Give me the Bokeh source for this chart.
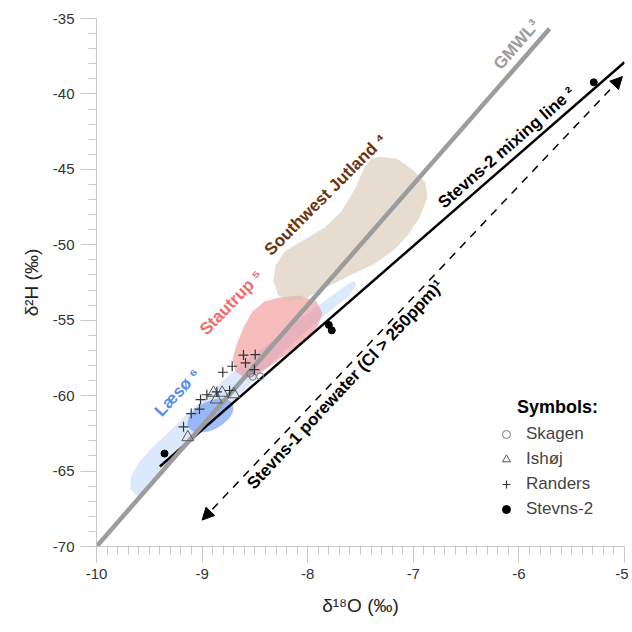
from bokeh.plotting import figure
from bokeh.models import (Label, Arrow, NormalHead, Legend, LegendItem, Ellipse,
                          ColumnDataSource, FixedTicker)
from bokeh.embed import file_html
from bokeh.resources import INLINE

FONT = "Liberation Sans"

# ---------------- data ----------------
skagen_x = [-8.545, -8.52, -8.45]
skagen_y = [-58.54, -58.75, -58.72]

ishoj_x = [-8.892, -8.81, -8.866, -8.70, -9.135]
ishoj_y = [-59.81, -59.81, -60.26, -59.91, -62.76]

randers_x = [-8.608, -8.497, -8.715, -8.589, -8.804, -8.504, -8.955, -9.015,
             -9.025, -9.103, -9.176, -8.74, -8.86]
randers_y = [-57.31, -57.28, -58.05, -57.83, -58.45, -58.27, -59.94, -60.26,
             -60.89, -61.19, -62.07, -59.66, -59.75]

stevns2_x = [-9.356, -7.80, -7.772, -5.291]
stevns2_y = [-63.84, -55.31, -55.67, -39.23]

gmwl_x = [-10.0, -5.71]
gmwl_y = [-70.0, -35.68]

mix_x = [-9.40, -5.0]
mix_y = [-64.7, -37.9]

pore_x = [-9.0, -5.02]
pore_y = [-68.25, -38.85]

laeso_x = [-9.678, -9.593, -9.451, -9.290, -9.119, -8.930, -8.722, -8.504, -8.267,
           -8.030, -7.794, -7.623, -7.557, -7.538, -7.604, -7.794, -8.030, -8.267,
           -8.504, -8.741, -8.977, -9.214, -9.403, -9.517, -9.612, -9.678]
laeso_y = [-65.43, -64.37, -63.31, -62.25, -61.05, -59.79, -58.54, -57.28, -56.02,
           -54.69, -53.50, -52.64, -52.37, -52.64, -53.37, -54.43, -55.82, -57.34,
           -58.93, -60.59, -62.25, -63.90, -65.23, -66.22, -66.62, -66.22]

laeso_core_x = [-8.92]
laeso_core_y = [-61.32]

staut_x = [-8.267, -8.078, -7.917, -7.860, -7.926, -8.078, -8.220, -8.362, -8.475,
           -8.598, -8.684, -8.712, -8.674, -8.608, -8.523, -8.409]
staut_y = [-53.50, -53.37, -53.76, -54.56, -55.75, -56.61, -57.34, -58.07, -58.60,
           -58.80, -58.40, -57.61, -56.61, -55.49, -54.43, -53.76]

swj_x = [-7.320, -7.150, -7.008, -6.884, -6.866, -6.941, -7.055, -7.178, -7.367,
         -7.604, -7.841, -8.030, -8.172, -8.277, -8.324, -8.305, -8.220, -8.030,
         -7.841, -7.680, -7.557, -7.462, -7.396]
swj_y = [-44.16, -44.29, -45.02, -45.88, -46.87, -48.20, -49.39, -50.32, -51.25,
         -52.04, -52.90, -53.57, -53.76, -53.37, -52.44, -51.38, -50.45, -49.66,
         -48.86, -47.80, -46.34, -44.88, -44.29]

x_ticks = [-10, -9, -8, -7, -6, -5]
x_tick_labels = ["-10", "-9", "-8", "-7", "-6", "-5"]
y_ticks = [-70, -65, -60, -55, -50, -45, -40, -35]
y_tick_labels = ["-70", "-65", "-60", "-55", "-50", "-45", "-40", "-35"]

# ---------------- figure ----------------
p = figure(frame_width=528, frame_height=528, x_range=(-10, -5), y_range=(-70, -35),
           output_backend="svg", toolbar_location=None,
           min_border_left=96, min_border_top=18, min_border_right=4, min_border_bottom=80)
p.outline_line_color = None
p.grid.visible = False
p.background_fill_color = "white"

for ax in (p.xaxis[0], p.yaxis[0]):
    ax.axis_line_color = "#c8c8c8"
    ax.major_tick_line_color = "#c8c8c8"
    ax.minor_tick_line_color = "#c8c8c8"
    ax.major_tick_in = 0
    ax.minor_tick_in = 0
    ax.major_tick_out = 16
    ax.minor_tick_out = 8
    ax.major_label_text_font = FONT
    ax.major_label_text_font_size = "15px"
    ax.major_label_text_color = "#333333"
    ax.axis_label_text_font = FONT
    ax.axis_label_text_font_size = "19px"
    ax.axis_label_text_font_style = "normal"
    ax.axis_label_text_color = "#222222"
    ax.major_label_standoff = 6

p.xaxis.ticker = FixedTicker(ticks=x_ticks, minor_ticks=[-10 + 0.1 * i for i in range(51)])
p.yaxis.ticker = FixedTicker(ticks=y_ticks, minor_ticks=list(range(-70, -34)))
p.xaxis.major_label_overrides = {t: s for t, s in zip(x_ticks, x_tick_labels)}
p.yaxis.major_label_overrides = {t: s for t, s in zip(y_ticks, y_tick_labels)}
p.xaxis.axis_label = "δ¹⁸O (‰)"
p.yaxis.axis_label = "δ²H (‰)"
p.xaxis.axis_label_standoff = 13
p.yaxis.axis_label_standoff = 8

# ---------------- regions ----------------
p.patch(laeso_x, laeso_y, fill_color="#c4d8fa", fill_alpha=0.6, line_color=None)
core = Ellipse(x="x", y="y", width=50, height=28, angle=28, angle_units="deg",
               width_units="screen", height_units="screen",
               fill_color="#7aa3f2", fill_alpha=0.7, line_color=None)
p.add_glyph(ColumnDataSource(dict(x=laeso_core_x, y=laeso_core_y)), core)
p.patch(staut_x, staut_y, fill_color="#f08585", fill_alpha=0.55, line_color=None)
p.patch(swj_x, swj_y, fill_color="#d6c4b0", fill_alpha=0.6, line_color=None)

# ---------------- lines ----------------
p.line(mix_x, mix_y, line_color="black", line_width=2.5)
p.line(gmwl_x, gmwl_y, line_color="#9c9c9c", line_width=4.5)
p.add_layout(Arrow(x_start=pore_x[0], y_start=pore_y[0], x_end=pore_x[1], y_end=pore_y[1],
                   line_color="black", line_width=1.5, line_dash="8 7",
                   start=NormalHead(size=12, fill_color="black", line_color="black"),
                   end=NormalHead(size=12, fill_color="black", line_color="black")))

# ---------------- points ----------------
r_sk = p.scatter(skagen_x, skagen_y, marker="circle", size=7, fill_color=None,
                 line_color="#777777", line_width=1)
r_is = p.scatter(ishoj_x, ishoj_y, marker="triangle", size=12, fill_color=None,
                 line_color="#555555", line_width=1)
r_ra = p.scatter(randers_x, randers_y, marker="cross", size=10,
                 line_color="#333333", line_width=1.2)
r_st = p.scatter(stevns2_x, stevns2_y, marker="circle", size=7, fill_color="black",
                 line_color="black")

# ---------------- labels ----------------
def lab(x, y, text, angle, color, size="17px", style="bold"):
    p.add_layout(Label(x=x, y=y, text=text, angle=angle, angle_units="deg",
                       text_align="center", text_baseline="middle",
                       text_font=FONT, text_font_style=style,
                       text_font_size=size, text_color=color))

lab(-7.831, -46.67, "Southwest Jutland ⁴", 45, "#6b3512")
lab(-8.722, -53.83, "Stautrup ⁵", 46, "#f26b6b")
lab(-9.233, -59.79, "Læsø ⁶", 47, "#5b8ef0")
lab(-6.023, -36.73, "GMWL³", 49, "#9c9c9c")
lab(-6.117, -43.56, "Stevns-2 mixing line ²", 41, "black")
lab(-7.642, -59.26, "Stevns-1 porewater (Cl > 250ppm)¹", 47, "black")
lab(-5.635, -60.72, "Symbols:", 0, "black", size="18px")

# ---------------- legend ----------------
legend = Legend(items=[LegendItem(label="Skagen", renderers=[r_sk]),
                       LegendItem(label="Ishøj", renderers=[r_is]),
                       LegendItem(label="Randers", renderers=[r_ra]),
                       LegendItem(label="Stevns-2", renderers=[r_st])],
                location=(400, 27),
                label_text_font=FONT, label_text_font_size="17px",
                glyph_width=20, glyph_height=20, label_height=20, spacing=5,
                padding=5, label_standoff=10,
                border_line_color=None, background_fill_alpha=0)
p.add_layout(legend)

open("out.html", "w").write(file_html(p, INLINE))
